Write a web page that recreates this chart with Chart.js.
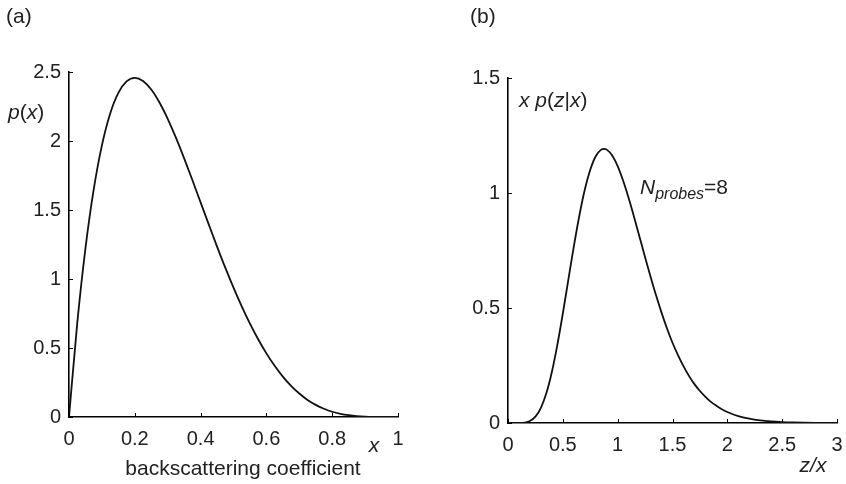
<!DOCTYPE html>
<html>
<head>
<meta charset="utf-8">
<script src="https://cdn.jsdelivr.net/npm/chart.js@4.4.1/dist/chart.umd.min.js"></script>
<style>
  html, body { margin: 0; padding: 0; background: #fff; }
  #wrap { position: relative; width: 846px; height: 484px; }
  canvas { position: absolute; top: 0; }
</style>
</head>
<body>
<div id="wrap">
  <canvas id="chartA" width="423" height="484" style="left:0"></canvas>
  <canvas id="chartB" width="423" height="484" style="left:423px"></canvas>
</div>
<script>
// panel (a): p(x) vs backscattering coefficient x
const xA = [0, 0.025, 0.05, 0.075, 0.1, 0.125, 0.15, 0.175, 0.2, 0.225, 0.25, 0.275, 0.3, 0.325,
  0.35, 0.375, 0.4, 0.425, 0.45, 0.475, 0.5, 0.525, 0.55, 0.575, 0.6, 0.625, 0.65, 0.675, 0.7,
  0.725, 0.75, 0.775, 0.8, 0.825, 0.85, 0.875, 0.9, 0.925, 0.95, 1];
const pA = [0, 0.678, 1.222, 1.647, 1.968, 2.198, 2.349, 2.432, 2.458, 2.435, 2.373, 2.279, 2.161, 2.024,
  1.874, 1.717, 1.555, 1.394, 1.235, 1.082, 0.9375, 0.802, 0.677, 0.563, 0.461, 0.371, 0.293, 0.226, 0.170,
  0.124, 0.088, 0.060, 0.038, 0.023, 0.013, 0.0064, 0.0027, 0.0009, 0.0002, 0];

// panel (b): x p(z|x) vs z/x, N_probes = 8
const zB = [0, 0.05, 0.1, 0.15, 0.2, 0.25, 0.3, 0.35, 0.4, 0.45, 0.5, 0.55, 0.6, 0.65, 0.7, 0.75, 0.8,
  0.85, 0.875, 0.9, 0.95, 1, 1.05, 1.1, 1.15, 1.2, 1.25, 1.3, 1.35, 1.4, 1.45, 1.5, 1.55, 1.6, 1.65, 1.7,
  1.75, 1.8, 1.85, 1.9, 1.95, 2, 2.1, 2.2, 2.3, 2.4, 2.5, 2.6, 2.7, 2.8, 2.9, 3];
const pB = [0, 0, 0.00015, 0.0017, 0.0086, 0.0275, 0.066, 0.130, 0.222, 0.340, 0.476, 0.622, 0.767,
  0.900, 1.014, 1.101, 1.160, 1.1885, 1.192, 1.1886, 1.163, 1.117, 1.053, 0.978, 0.895, 0.808, 0.721, 0.636,
  0.555, 0.480, 0.411, 0.349, 0.295, 0.247, 0.205, 0.169, 0.139, 0.114, 0.092, 0.075, 0.060, 0.048,
  0.030, 0.019, 0.0116, 0.0070, 0.0042, 0.0025, 0.0015, 0.0008, 0.0005, 0.0003];

// tick values
const xTicksA = [0, 0.2, 0.4, 0.6, 0.8, 1];
const yTicksA = [0, 0.5, 1, 1.5, 2, 2.5];
const xTicksB = [0, 0.5, 1, 1.5, 2, 2.5, 3];
const yTicksB = [0, 0.5, 1, 1.5];

const FONT = "'Liberation Sans', Arial, Helvetica, sans-serif";
const TXT = '#222';

// draw text pieces one after another (mixed italic / sizes)
function drawRich(ctx, x, y, parts) {
  let cx = x;
  parts.forEach(p => {
    ctx.font = (p.it ? 'italic ' : '') + p.size + 'px ' + FONT;
    ctx.fillText(p.t, cx, y + (p.dy || 0));
    cx += ctx.measureText(p.t).width;
  });
}

// MATLAB-like ticks pointing into the plot
const inwardTicks = {
  id: 'inwardTicks',
  afterDraw(chart) {
    const { ctx, chartArea: a, scales: { x, y } } = chart;
    ctx.save();
    ctx.strokeStyle = '#000';
    ctx.lineWidth = 1;
    x.ticks.forEach(t => {
      const px = Math.round(x.getPixelForValue(t.value)) + 0.5;
      ctx.beginPath();
      ctx.moveTo(px, a.bottom);
      ctx.lineTo(px, a.bottom - 4);
      ctx.stroke();
    });
    y.ticks.forEach(t => {
      const py = Math.round(y.getPixelForValue(t.value)) + 0.5;
      ctx.beginPath();
      ctx.moveTo(a.left, py);
      ctx.lineTo(a.left + 4, py);
      ctx.stroke();
    });
    ctx.restore();
  }
};

function makeOptions(xTicks, yTicks, xMax, yMax, yWidth, xHeight, pad) {
  const tickFont = { family: FONT, size: 20 };
  const fmt = v => String(v);
  return {
    responsive: false,
    devicePixelRatio: 1,
    animation: false,
    layout: { padding: pad },
    plugins: { legend: { display: false }, tooltip: { enabled: false } },
    elements: { point: { radius: 0 } },
    scales: {
      x: {
        type: 'linear', min: 0, max: xMax,
        afterBuildTicks: s => { s.ticks = xTicks.map(v => ({ value: v })); },
        afterFit: s => { s.height = xHeight; s.paddingLeft = 0; s.paddingRight = 0; },
        grid: { display: false, drawTicks: false },
        border: { display: true, color: '#000', width: 1.6 },
        ticks: { color: TXT, font: tickFont, padding: 10, maxRotation: 0, callback: fmt }
      },
      y: {
        type: 'linear', min: 0, max: yMax,
        afterBuildTicks: s => { s.ticks = yTicks.map(v => ({ value: v })); },
        afterFit: s => { s.width = yWidth; s.paddingTop = 0; s.paddingBottom = 0; },
        grid: { display: false, drawTicks: false },
        border: { display: true, color: '#000', width: 1.6 },
        ticks: { color: TXT, font: tickFont, padding: 8, callback: fmt }
      }
    }
  };
}

const labelsA = {
  id: 'labelsA',
  afterDraw(chart) {
    const ctx = chart.ctx;
    ctx.save();
    ctx.fillStyle = TXT;
    ctx.textBaseline = 'middle';
    ctx.textAlign = 'left';
    drawRich(ctx, 6, 17, [{ t: '(a)', size: 21 }]);
    drawRich(ctx, 8, 113, [
      { t: 'p', size: 21, it: true }, { t: '(', size: 21 },
      { t: 'x', size: 21, it: true }, { t: ')', size: 21 }
    ]);
    ctx.textAlign = 'center';
    ctx.font = 'italic 21px ' + FONT;
    ctx.fillText('x', 374, 446);
    ctx.font = '21px ' + FONT;
    ctx.fillText('backscattering coefficient', 243, 469);
    ctx.restore();
  }
};

const labelsB = {
  id: 'labelsB',
  afterDraw(chart) {
    const ctx = chart.ctx;
    ctx.save();
    ctx.fillStyle = TXT;
    ctx.textBaseline = 'middle';
    ctx.textAlign = 'left';
    drawRich(ctx, 47, 17, [{ t: '(b)', size: 21 }]);
    drawRich(ctx, 96, 101, [
      { t: 'x p', size: 21, it: true }, { t: '(', size: 21 },
      { t: 'z', size: 21, it: true }, { t: '|', size: 21 },
      { t: 'x', size: 21, it: true }, { t: ')', size: 21 }
    ]);
    drawRich(ctx, 217, 188, [
      { t: 'N', size: 21, it: true },
      { t: 'probes', size: 16, it: true, dy: 7 },
      { t: '=8', size: 21 }
    ]);
    ctx.textAlign = 'center';
    ctx.font = 'italic 21px ' + FONT;
    ctx.fillText('z/x', 390, 466);
    ctx.restore();
  }
};

new Chart(document.getElementById('chartA').getContext('2d'), {
  type: 'line',
  data: {
    datasets: [{
      data: xA.map((v, i) => ({ x: v, y: pA[i] })),
      borderColor: '#111',
      borderWidth: 1.8,
      cubicInterpolationMode: 'monotone',
      fill: false
    }]
  },
  options: makeOptions(xTicksA, yTicksA, 1, 2.5, 69, 67, { left: 0, right: 25, top: 72, bottom: 0 }),
  plugins: [inwardTicks, labelsA]
});

new Chart(document.getElementById('chartB').getContext('2d'), {
  type: 'line',
  data: {
    datasets: [{
      data: zB.map((v, i) => ({ x: v, y: pB[i] })),
      borderColor: '#111',
      borderWidth: 1.8,
      cubicInterpolationMode: 'monotone',
      fill: false
    }]
  },
  options: makeOptions(xTicksB, yTicksB, 3, 1.5, 85, 61, { left: 0, right: 9, top: 78, bottom: 0 }),
  plugins: [inwardTicks, labelsB]
});
</script>
</body>
</html>
